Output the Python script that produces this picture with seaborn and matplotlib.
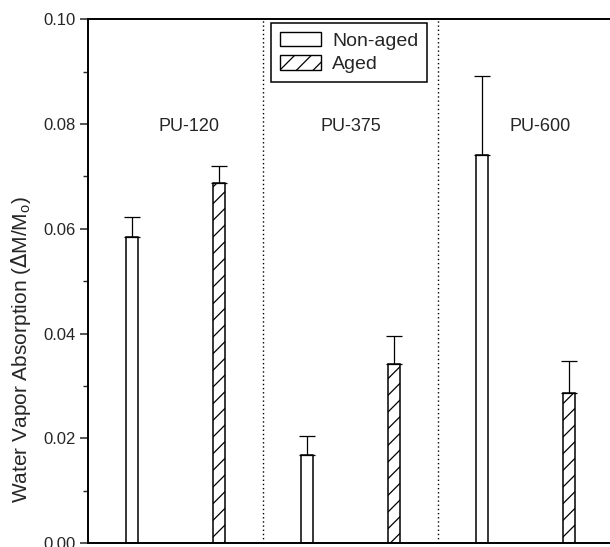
import matplotlib
matplotlib.use("Agg")
import matplotlib.pyplot as plt
import seaborn as sns
import pandas as pd
from matplotlib.patches import Patch
from matplotlib.ticker import MultipleLocator

sns.set_style("ticks")
plt.rcParams['font.family'] = ['Liberation Sans', 'DejaVu Sans']
plt.rcParams['hatch.linewidth'] = 0.9

# data
bar_ids = ["PU-120 Non-aged", "PU-120 Aged", "PU-375 Non-aged", "PU-375 Aged", "PU-600 Non-aged", "PU-600 Aged"]
conditions = ["Non-aged", "Aged", "Non-aged", "Aged", "Non-aged", "Aged"]
values = [0.0585, 0.0688, 0.0169, 0.0342, 0.0741, 0.0286]
errors = [0.0038, 0.0032, 0.0036, 0.0054, 0.0151, 0.0061]
groups = ["PU-120", "PU-375", "PU-600"]
group_label_x = [0.66, 2.51, 4.67]
group_label_y = 0.0795
y_ticks = [0.00, 0.02, 0.04, 0.06, 0.08, 0.10]

df = pd.DataFrame({"bar": bar_ids, "cond": conditions, "val": values})

fig = plt.figure(figsize=(6.10, 5.47), dpi=100)
ax = fig.add_axes([88/610, 1 - 543.3/547, 1 - 88/610, (543.3 - 19.3)/547])

sns.barplot(data=df, x="bar", y="val", hue="cond", order=bar_ids,
            hue_order=["Non-aged", "Aged"], dodge=False,
            palette={"Non-aged": "white", "Aged": "white"},
            edgecolor="black", linewidth=1.1, width=0.137,
            errorbar=None, legend=False, ax=ax)

for cont, lab in zip(ax.containers, ["Non-aged", "Aged"]):
    if lab == "Aged":
        for p in cont:
            p.set_hatch("//")

xpos = list(range(len(bar_ids)))
ax.errorbar(xpos, values, yerr=[[0]*len(errors), errors], fmt="none",
            ecolor="black", elinewidth=0.9, capsize=6, capthick=0.9, zorder=1)

for xv in [1.5, 3.5]:
    ax.axvline(xv, color="black", lw=1.0, ls=(0, (1, 2)), zorder=0)

for g, gx in zip(groups, group_label_x):
    ax.text(gx, group_label_y, g, ha="center", va="center", fontsize=13)

ax.set_xlim(-0.5, 5.466)
ax.set_ylim(0, 0.10)
ax.set_yticks(y_ticks)
ax.set_yticklabels([f"{t:.2f}" for t in y_ticks])
ax.yaxis.set_minor_locator(MultipleLocator(0.01))
ax.tick_params(axis="y", which="major", direction="out", length=6, width=1.1, labelsize=12, pad=3)
ax.tick_params(axis="y", which="minor", direction="out", length=3.5, width=1.0)
ax.set_xticks([])
ax.set_xlabel("")
ax.set_ylabel("Water Vapor Absorption ($\\Delta$M/M$_{\\mathregular{o}}$)", fontsize=15)
ax.yaxis.set_label_coords(-0.105, 0.37)

for s in ["left", "bottom", "top"]:
    ax.spines[s].set_visible(True)
    ax.spines[s].set_linewidth(1.4)
    ax.spines[s].set_color("black")
ax.spines["right"].set_visible(False)

handles = [Patch(facecolor="white", edgecolor="black", linewidth=1.0, label="Non-aged"),
           Patch(facecolor="white", edgecolor="black", linewidth=1.0, hatch="//", label="Aged")]
leg = fig.legend(handles=handles, loc="upper left", bbox_to_anchor=(271/610, 1 - 23/547),
                 fontsize=14, frameon=True, fancybox=False, shadow=False,
                 handlelength=2.1, handleheight=0.75, borderpad=0.45, labelspacing=0.3,
                 handletextpad=0.6, borderaxespad=0)
leg.get_frame().set_edgecolor("black")
leg.get_frame().set_linewidth(1.1)
leg.get_frame().set_alpha(1)

fig.savefig("out.png", dpi=100)
